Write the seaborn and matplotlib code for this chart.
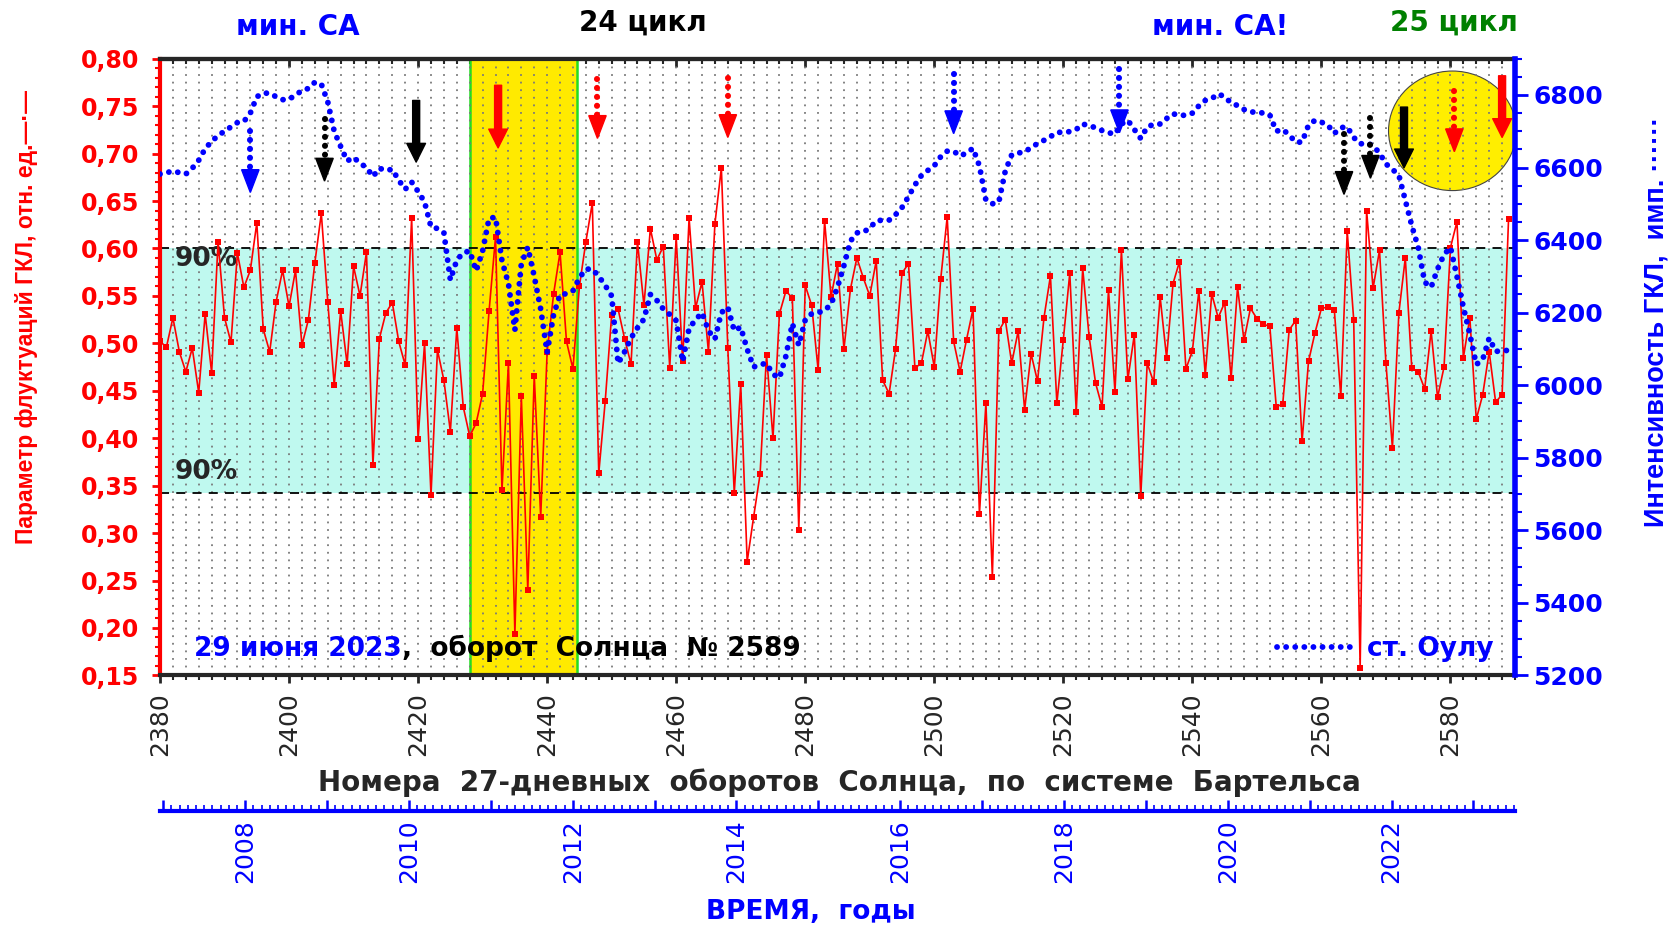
import numpy as np
import pandas as pd
import seaborn as sns
import matplotlib.pyplot as plt
from matplotlib.ticker import MultipleLocator, FuncFormatter
from matplotlib.patches import Ellipse, Polygon, FancyArrowPatch

sns.set_style("ticks")
plt.rcParams['font.family'] = ['DejaVu Sans']

# Номера оборотов Бартельса
rotations = list(range(2380, 2590))

# Параметр флуктуаций ГКЛ (левая ось)
fluct = [
    0.502, 0.496, 0.527, 0.491, 0.470, 0.495, 0.448, 0.531, 0.469, 0.607,
    0.527, 0.501, 0.595, 0.559, 0.577, 0.627, 0.515, 0.491, 0.544, 0.577,
    0.539, 0.577, 0.498, 0.525, 0.585, 0.637, 0.544, 0.456, 0.534, 0.478,
    0.581, 0.550, 0.596, 0.372, 0.505, 0.532, 0.543, 0.502, 0.477, 0.632,
    0.399, 0.500, 0.340, 0.493, 0.461, 0.407, 0.516, 0.433, 0.402, 0.416,
    0.447, 0.534, 0.612, 0.345, 0.479, 0.194, 0.444, 0.240, 0.466, 0.317,
    0.491, 0.552, 0.596, 0.502, 0.473, 0.560, 0.607, 0.648, 0.363, 0.439,
    0.530, 0.536, 0.505, 0.478, 0.607, 0.540, 0.621, 0.588, 0.602, 0.474,
    0.612, 0.481, 0.632, 0.537, 0.565, 0.491, 0.626, 0.685, 0.495, 0.342,
    0.457, 0.270, 0.317, 0.362, 0.488, 0.400, 0.531, 0.555, 0.548, 0.303,
    0.561, 0.540, 0.472, 0.629, 0.549, 0.584, 0.494, 0.557, 0.590, 0.569,
    0.550, 0.587, 0.461, 0.447, 0.494, 0.574, 0.584, 0.474, 0.479, 0.513,
    0.475, 0.568, 0.633, 0.502, 0.470, 0.504, 0.536, 0.320, 0.437, 0.254,
    0.513, 0.525, 0.479, 0.513, 0.430, 0.489, 0.460, 0.527, 0.571, 0.437,
    0.504, 0.574, 0.428, 0.579, 0.507, 0.458, 0.433, 0.556, 0.449, 0.598,
    0.462, 0.509, 0.339, 0.479, 0.459, 0.549, 0.485, 0.563, 0.586, 0.473,
    0.492, 0.555, 0.467, 0.552, 0.527, 0.543, 0.463, 0.559, 0.503, 0.537,
    0.526, 0.520, 0.518, 0.433, 0.436, 0.514, 0.524, 0.397, 0.481, 0.511,
    0.537, 0.538, 0.535, 0.444, 0.618, 0.525, 0.158, 0.640, 0.558, 0.598,
    0.479, 0.390, 0.532, 0.590, 0.474, 0.470, 0.452, 0.513, 0.443, 0.475,
    0.601, 0.628, 0.485, 0.527, 0.420, 0.446, 0.491, 0.438, 0.446, 0.631,
]

# Интенсивность ГКЛ, ст. Оулу (правая ось)
oulu = [
    6582, 6586, 6590, 6586, 6582, 6598, 6620, 6652, 6672, 6688,
    6700, 6712, 6724, 6727, 6750, 6795, 6805, 6805, 6795, 6787,
    6788, 6800, 6812, 6818, 6835, 6830, 6781, 6700, 6658, 6618,
    6628, 6612, 6600, 6575, 6598, 6592, 6595, 6565, 6540, 6560,
    6534, 6505, 6436, 6432, 6420, 6290, 6345, 6365, 6370, 6315,
    6370, 6460, 6463, 6343, 6280, 6152, 6335, 6380, 6300, 6210,
    6090, 6194, 6250, 6252, 6260, 6296, 6320, 6320, 6300, 6275,
    6246, 6060, 6092, 6130, 6158, 6182, 6250, 6234, 6210, 6195,
    6178, 6065, 6157, 6180, 6200, 6150, 6127, 6200, 6215, 6150,
    6160, 6099, 6050, 6057, 6060, 6030, 6020, 6080, 6170, 6110,
    6180, 6197, 6200, 6206, 6223, 6270, 6330, 6397, 6420, 6422,
    6433, 6453, 6455, 6455, 6470, 6490, 6520, 6552, 6578, 6592,
    6605, 6630, 6645, 6645, 6632, 6640, 6653, 6604, 6510, 6500,
    6505, 6590, 6635, 6640, 6643, 6655, 6666, 6675, 6685, 6697,
    6697, 6699, 6705, 6720, 6715, 6710, 6702, 6696, 6692, 6720,
    6730, 6705, 6680, 6712, 6719, 6720, 6735, 6748, 6744, 6744,
    6750, 6770, 6785, 6790, 6803, 6795, 6778, 6771, 6760, 6753,
    6753, 6750, 6745, 6700, 6705, 6690, 6670, 6670, 6717, 6730,
    6725, 6717, 6694, 6710, 6712, 6683, 6665, 6668, 6660, 6640,
    6610, 6595, 6579, 6510, 6440, 6380, 6284, 6270, 6320, 6360,
    6380, 6300, 6215, 6140, 6057, 6071, 6130, 6093, 6095, 6096,
]

# стрелки: оборот, верх, острие (ед. левой оси), цвет, пунктир
arrow_x = [2394, 2405.5, 2419.7, 2432.4, 2447.8, 2468, 2503, 2528.7,
           2563.5, 2567.6, 2572.8, 2580.6, 2588]
arrow_top = [0.724, 0.736, 0.756, 0.772, 0.779, 0.780, 0.784, 0.789,
             0.721, 0.738, 0.749, 0.766, 0.782]
arrow_tip = [0.659, 0.671, 0.691, 0.706, 0.716, 0.717, 0.721, 0.722,
             0.657, 0.674, 0.685, 0.702, 0.717]
arrow_color = ['blue', 'black', 'black', 'red', 'red', 'red', 'blue', 'blue',
               'black', 'black', 'black', 'red', 'red']
arrow_dotted = [True, True, False, False, True, True, True, True,
                True, True, False, True, False]

df = pd.DataFrame({'rot': rotations, 'fluct': fluct, 'oulu': oulu})

W, H = 1673, 926
fig = plt.figure(figsize=(W / 100, H / 100), dpi=100)
ax = fig.add_axes([160 / W, 1 - 675.4 / H, (1515 - 160) / W, (675.4 - 58.7) / H])
ax2 = ax.twinx()

# фон: полоса 90%, жёлтая полоса, эллипс
ax.axhspan(0.342, 0.60, color='#bff9ef', lw=0, zorder=0.1)
ax.axvspan(2428.1, 2444.7, color='#ffea00', lw=0, zorder=0.2)
for xv in (2428.1, 2444.7):
    ax.axvline(xv, color='#22dd22', lw=1.8, zorder=0.3)
ax.add_patch(Ellipse((2580.3, 0.724), 19.8, 0.126, facecolor='#ffee00',
                     edgecolor='#444444', lw=0.8, zorder=0.4))
for yv in (0.60, 0.342):
    ax.axhline(yv, color='black', ls=(0, (5, 4)), lw=1.3, zorder=1)

ax.text(2382.2, 0.589, "90%", fontsize=19, fontweight='bold', va='center')
ax.text(2382.2, 0.364, "90%", fontsize=19, fontweight='bold', va='center')

sns.lineplot(data=df, x='rot', y='fluct', ax=ax, color='red', lw=1.2,
             marker='s', markersize=4, markeredgewidth=0, zorder=3)
sns.lineplot(data=df, x='rot', y='oulu', ax=ax2, color='blue', lw=4.2,
             linestyle=(0, (0.01, 1.55)), dash_capstyle='round',
             label='ст. Оулу')

# стрелки
for x, top, tip, c, dotted in zip(arrow_x, arrow_top, arrow_tip,
                                   arrow_color, arrow_dotted):
    if dotted:
        ax2.plot([x, x], [top, tip + 0.024], transform=ax.transData, color=c,
                 lw=4.4, ls=(0, (0.01, 1.45)), dash_capstyle='round')
        ax2.add_patch(Polygon([[x - 1.35, tip + 0.024], [x + 1.35, tip + 0.024],
                               [x, tip]], closed=True, color=c,
                              transform=ax.transData))
    else:
        ax2.add_patch(FancyArrowPatch(
            (x, top), (x, tip), transform=ax.transData, color=c,
            arrowstyle='simple,head_length=0.75,head_width=0.75,tail_width=0.28',
            mutation_scale=18, shrinkA=0, shrinkB=0))

ax.set_xlim(2380, 2590)
ax.set_ylim(0.15, 0.80)
ax2.set_ylim(5200, 6900)
ax.set_xlabel('')
ax.set_ylabel('')
ax2.set_xlabel('')
ax2.set_ylabel('')

# сетка точками
ax.xaxis.set_major_locator(MultipleLocator(20))
ax.xaxis.set_minor_locator(MultipleLocator(2))
ax.grid(which='both', axis='x', color='#7a7a7a', ls=(0, (1.0, 3.2)), lw=1.3)
ax.set_axisbelow(True)

# оси
ax.yaxis.set_major_locator(MultipleLocator(0.05))
ax.yaxis.set_minor_locator(MultipleLocator(0.01))
ax.yaxis.set_major_formatter(FuncFormatter(lambda v, p: f"{v:.2f}".replace('.', ',')))
ax.tick_params(axis='y', which='major', colors='red', length=6, width=2,
               labelsize=17, pad=9)
ax.tick_params(axis='y', which='minor', colors='red', length=3.5, width=1.5)
ax.tick_params(axis='x', which='major', direction='out', length=6, width=2,
               labelsize=18, labelrotation=90, pad=6)
ax.tick_params(axis='x', which='minor', direction='out', length=3.5, width=1.5)
plt.setp(ax.get_yticklabels(), fontweight='bold')

ax2.yaxis.set_major_locator(MultipleLocator(200))
ax2.yaxis.set_minor_locator(MultipleLocator(50))
ax2.tick_params(axis='y', which='major', colors='blue', length=9, width=2,
                labelsize=18, pad=4)
ax2.tick_params(axis='y', which='minor', colors='blue', length=5, width=1.5)
plt.setp(ax2.get_yticklabels(), fontweight='bold')

for s in ('left', 'top', 'bottom'):
    ax2.spines[s].set_visible(False)
ax.spines['right'].set_visible(False)
ax.spines['left'].set_color('red')
ax.spines['left'].set_linewidth(3)
ax.spines['bottom'].set_linewidth(3)
ax.spines['top'].set_linewidth(3)
ax2.spines['right'].set_color('blue')
ax2.spines['right'].set_linewidth(4)

top = ax.secondary_xaxis('top')
top.xaxis.set_major_locator(MultipleLocator(20))
top.xaxis.set_minor_locator(MultipleLocator(2))
top.tick_params(axis='x', which='major', direction='in', length=6, width=2,
                labeltop=False)
top.tick_params(axis='x', which='minor', direction='in', length=3.5, width=1.5)
top.spines['top'].set_linewidth(3)

# ось времени (годы)
def rot2year(r):
    return 2008 + (np.asarray(r, dtype=float) - 2393.2) / 12.69


def year2rot(y):
    return 2393.2 + (np.asarray(y, dtype=float) - 2008) * 12.69


yr = ax.secondary_xaxis(-0.22, functions=(rot2year, year2rot))
yr.xaxis.set_major_locator(MultipleLocator(1))
yr.xaxis.set_minor_locator(MultipleLocator(0.1))
yr.xaxis.set_major_formatter(FuncFormatter(
    lambda v, p: f"{int(round(v))}" if int(round(v)) % 2 == 0 else ""))
yr.tick_params(axis='x', which='major', direction='in', length=8, width=1.8,
               colors='blue', labelsize=18, labelrotation=90, pad=6)
yr.tick_params(axis='x', which='minor', direction='in', length=4, width=1.2,
               colors='blue')
yr.spines['bottom'].set_color('blue')
yr.spines['bottom'].set_linewidth(3)

# легенда
ax2.legend(loc='center right', bbox_to_anchor=(0.984, 0.043), frameon=False,
           prop=dict(weight='bold', size=19), labelcolor='blue',
           handlelength=2.8, handletextpad=0.6, borderaxespad=0, borderpad=0)

# подписи
t1 = ax.text(0.025, 0.043, "29 июня 2023", transform=ax.transAxes,
             color='blue', fontsize=19, fontweight='bold', va='center')
ax.annotate(",  оборот  Солнца  № 2589", xy=(1, 0), xycoords=t1,
            va='bottom', ha='left', color='black', fontsize=19, fontweight='bold')

fig.text(298 / W, 1 - 27 / H, "мин. СА", color='blue', fontsize=20,
         fontweight='bold', ha='center', va='center')
fig.text(643 / W, 1 - 23 / H, "24 цикл", color='black', fontsize=20,
         fontweight='bold', ha='center', va='center')
fig.text(1220 / W, 1 - 27 / H, "мин. СА!", color='blue', fontsize=20,
         fontweight='bold', ha='center', va='center')
fig.text(1454 / W, 1 - 23 / H, "25 цикл", color='#008000', fontsize=20,
         fontweight='bold', ha='center', va='center')

fig.text(839 / W, 1 - 783 / H,
         "Номера  27-дневных  оборотов  Солнца,  по  системе  Бартельса",
         fontsize=20, fontweight='bold', ha='center', va='center')
fig.text(811 / W, 1 - 912 / H, "ВРЕМЯ,  годы", color='blue', fontsize=19,
         fontweight='bold', ha='center', va='center')

side = ['Liberation Sans', 'DejaVu Sans']
fig.text(27 / W, 1 - 317 / H, "Параметр флуктуаций ГКЛ, отн. ед.—·—",
         color='red', fontsize=16.5, fontweight='bold', family=side,
         rotation=90, ha='center', va='center')
fig.text(1657 / W, 1 - 322 / H, "Интенсивность ГКЛ,  имп. ······",
         color='blue', fontsize=19.5, fontweight='bold', family=side,
         rotation=90, ha='center', va='center')

fig.savefig('out.png', dpi=100)
